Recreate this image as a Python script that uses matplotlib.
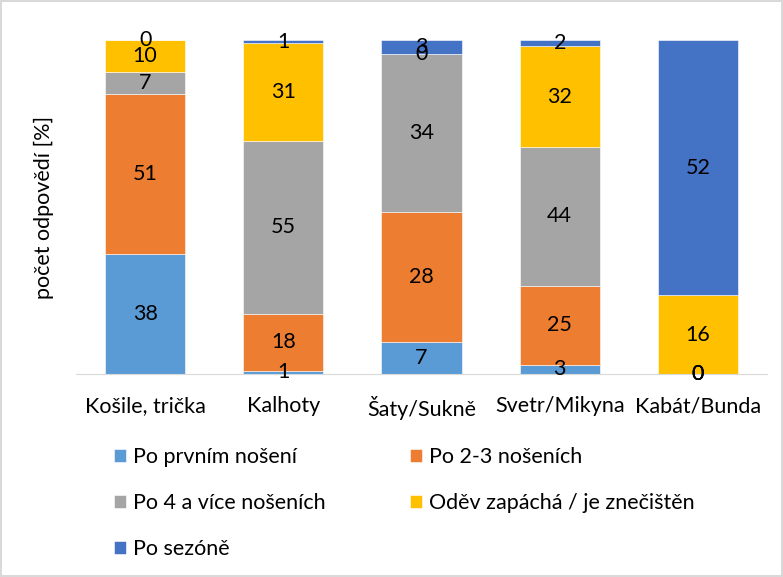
'''
100% stacked bar chart - kdy se oblečení pere
'''
import numpy as np
import matplotlib
matplotlib.use('Agg')
import matplotlib.pyplot as plt

categories = ['Košile, trička', 'Kalhoty', 'Šaty/Sukně', 'Svetr/Mikyna', 'Kabát/Bunda']
series = ['Po prvním nošení', 'Po 2-3 nošeních', 'Po 4 a více nošeních',
          'Oděv zapáchá / je znečištěn', 'Po sezóně']
po_prvnim = [38, 1, 7, 3, 0]
po_2_3 = [51, 18, 28, 25, 0]
po_4_vice = [7, 55, 34, 44, 0]
zapacha = [10, 31, 0, 32, 16]
po_sezone = [0, 1, 3, 2, 52]
colors = ['#5B9BD5', '#ED7D31', '#A5A5A5', '#FFC000', '#4472C4']

plt.rcParams['font.family'] = ['Lato', 'DejaVu Sans']
FS = 15.5

counts = np.array([po_prvnim, po_2_3, po_4_vice, zapacha, po_sezone], dtype=float)
shares = counts / counts.sum(axis=0) * 100

fig = plt.figure(figsize=(7.83, 5.77), dpi=100)
fig.patch.set_edgecolor('#d9d9d9')
fig.patch.set_linewidth(1.5)
ax = fig.add_axes([76 / 783, 1 - 374 / 577, 691 / 783, 334 / 577])

x = np.arange(len(categories))
bottom = np.zeros(len(categories))
handles = []
for i in range(len(series)):
    bars = ax.bar(x, shares[i], 0.58, bottom=bottom, color=colors[i],
                  edgecolor='white', linewidth=0.4, label=series[i])
    ax.bar_label(bars, labels=[str(int(v)) for v in counts[i]], label_type='center',
                 fontsize=FS, color='black')
    bottom += shares[i]
    handles.append(bars)

ax.set_xlim(-0.5, len(categories) - 0.5)
ax.set_ylim(0, 100)
ax.set_yticks([])
ax.set_xticks(x)
ax.set_xticklabels(categories, fontsize=FS)
ax.tick_params(axis='x', length=0, pad=16)
for s in ['top', 'right', 'left']:
    ax.spines[s].set_visible(False)
ax.spines['bottom'].set_color('#d9d9d9')
ax.set_ylabel('počet odpovědí [%]', fontsize=FS, labelpad=16)

# legend row-wise like excel
order = [0, 2, 4, 1, 3]
fig.legend([handles[i] for i in order], [series[i] for i in order], ncol=2,
           loc='upper left', bbox_to_anchor=(114 / 783, 1 - 447 / 577),
           frameon=False, fontsize=FS, borderpad=0, borderaxespad=0,
           handlelength=0.56, handleheight=0.56,
           handletextpad=0.33, labelspacing=1.2, columnspacing=3.9)

plt.savefig('out.png', dpi=100)
